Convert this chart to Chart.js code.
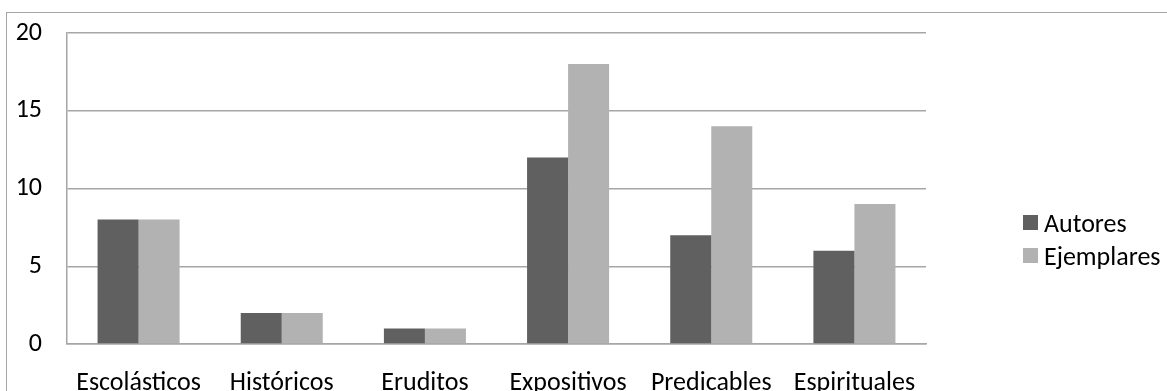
<!DOCTYPE html>
<html lang="es">
<head>
    <meta charset="UTF-8" />
    <title>Autores y ejemplares</title>
    <script src="https://cdn.jsdelivr.net/npm/chart.js"></script>
    <style>
        html, body { margin: 0; padding: 0; background: #fff; overflow: hidden; }
        .frame {
            position: absolute; left: 6px; top: 12px;
            width: 1200px; height: 420px;
            border: 1.5px solid #a6a6a6;
        }
        .wrap { position: absolute; left: 0; top: 0; width: 1167px; height: 391px; }
        .legend {
            position: absolute; left: 1023px; top: 206px;
            font-family: Carlito, Calibri, Lato, sans-serif; font-size: 26px; color: #000;
        }
        .legend-item { display: flex; align-items: center; height: 33px; }
        .legend-box { width: 15px; height: 15px; margin-right: 6px; }
    </style>
</head>
<body>
    <div class="frame"></div>
    <div class="wrap"><canvas id="chart" width="1167" height="391"></canvas></div>
    <div class="legend" id="legend"></div>

<script>
    const categories = ['Escolásticos', 'Históricos', 'Eruditos', 'Expositivos', 'Predicables', 'Espirituales'];
    const autores = [8, 2, 1, 12, 7, 6];
    const ejemplares = [8, 2, 1, 18, 14, 9];
    const seriesNames = ['Autores', 'Ejemplares'];
    const yTicks = [0, 5, 10, 15, 20];

    const colors = ['#606060', '#b2b2b2'];
    const fontFamily = 'Carlito, Calibri, Lato, sans-serif';

    new Chart(document.getElementById('chart'), {
        type: 'bar',
        data: {
            labels: categories,
            datasets: [
                { label: seriesNames[0], data: autores, backgroundColor: colors[0] },
                { label: seriesNames[1], data: ejemplares, backgroundColor: colors[1] }
            ]
        },
        options: {
            responsive: false,
            animation: false,
            categoryPercentage: 0.573,
            barPercentage: 1.0,
            layout: { padding: { top: 33, right: 241, bottom: 0, left: 0 } },
            plugins: { legend: { display: false }, tooltip: { enabled: false } },
            scales: {
                x: {
                    grid: { display: false },
                    border: { display: true, color: '#a6a6a6', width: 1.5 },
                    ticks: { color: '#000', font: { family: fontFamily, size: 26 }, padding: 16, maxRotation: 0, autoSkip: false },
                    afterFit: (s) => { s.height = 47; s.paddingLeft = 0; s.paddingRight = 0; }
                },
                y: {
                    min: 0,
                    max: 20,
                    afterBuildTicks: (s) => { s.ticks = yTicks.map(v => ({ value: v })); },
                    grid: { color: '#a6a6a6', lineWidth: 1.5, drawTicks: false },
                    border: { display: true, color: '#a6a6a6', width: 1.5 },
                    ticks: { color: '#000', font: { family: fontFamily, size: 26 }, padding: 25 },
                    afterFit: (s) => { s.width = 67; s.paddingTop = 0; s.paddingBottom = 0; }
                }
            }
        }
    });

    const legend = document.getElementById('legend');
    seriesNames.forEach((name, i) => {
        const item = document.createElement('div');
        item.className = 'legend-item';
        item.innerHTML = `<span class="legend-box" style="background:${colors[i]}"></span>${name}`;
        legend.appendChild(item);
    });
</script>
</body>
</html>
